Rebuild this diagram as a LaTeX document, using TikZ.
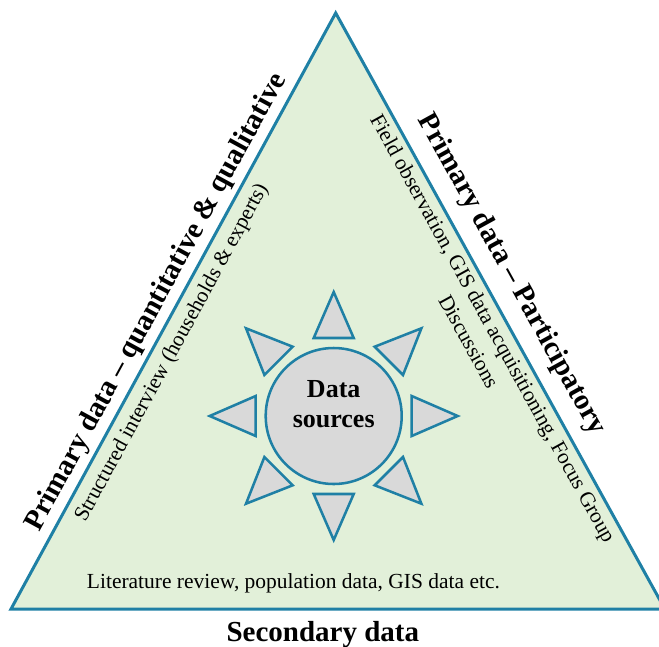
\documentclass[tikz,border=0pt]{standalone}
\usepackage{fontspec}
\setmainfont{Liberation Serif}
\usetikzlibrary{calc}
\definecolor{edgeblue}{RGB}{31,128,165}
\definecolor{leafgreen}{RGB}{226,240,217}
\definecolor{coregrey}{RGB}{217,217,217}
\tikzset{
  frame/.style={draw=edgeblue, line width=2.25pt, fill=leafgreen, line join=miter},
  ray/.style={draw=edgeblue, line width=1.9pt, fill=coregrey, line join=miter},
  hub/.style={circle, draw=edgeblue, fill=coregrey, line width=1.9pt, minimum size=102pt, inner sep=0pt},
  boldlbl/.style={inner sep=0pt, font=\fontsize{21.75}{26}\selectfont\bfseries},
  bodylbl/.style={inner sep=0pt, font=\fontsize{16.1}{20.8}\selectfont},
  hublbl/.style={inner sep=0pt, align=center, font=\fontsize{19.5}{22.5}\selectfont\bfseries}
}
\begin{document}
\begin{tikzpicture}[x=0.75pt,y=-0.75pt]
\useasboundingbox (0,0) rectangle (659,646);
\coordinate (A) at (335.7,13);
\coordinate (B) at (11,609);
\coordinate (C) at (664.8,609);
\draw[frame] (A) -- (B) -- (C) -- cycle;
\foreach \a in {0,45,...,315}{
  \begin{scope}[shift={(333.7,416)}, rotate=\a]
    \draw[ray] (124,0) -- (78,20) -- (78,-20) -- cycle;
  \end{scope}
}
\node[hub] (ds) at (333.7,416) {};
\node[hublbl] (dstext) at (333.7,404) {Data\\sources};
\node[boldlbl, rotate=61.4] (pq) at (156.5,302.2) {Primary data – quantitative \& qualitative};
\node[boldlbl, rotate=-61.1] (pp) at (511.1,274.9) {Primary data – Participatory};
\node[bodylbl, rotate=61.4] (si) at (172.2,352.9) {Structured interview (households \& experts)};
\node[bodylbl, rotate=-61.1, align=center] (fo) at (481.3,334.7) {Field observation, GIS data acquisitioning, Focus Group\\Discussions};
\node[bodylbl, anchor=base] (lr) at (293.4,588) {Literature review, population data, GIS data etc.};
\node[boldlbl, anchor=base] (sd) at (322.8,641) {Secondary data};
\end{tikzpicture}
\end{document}
